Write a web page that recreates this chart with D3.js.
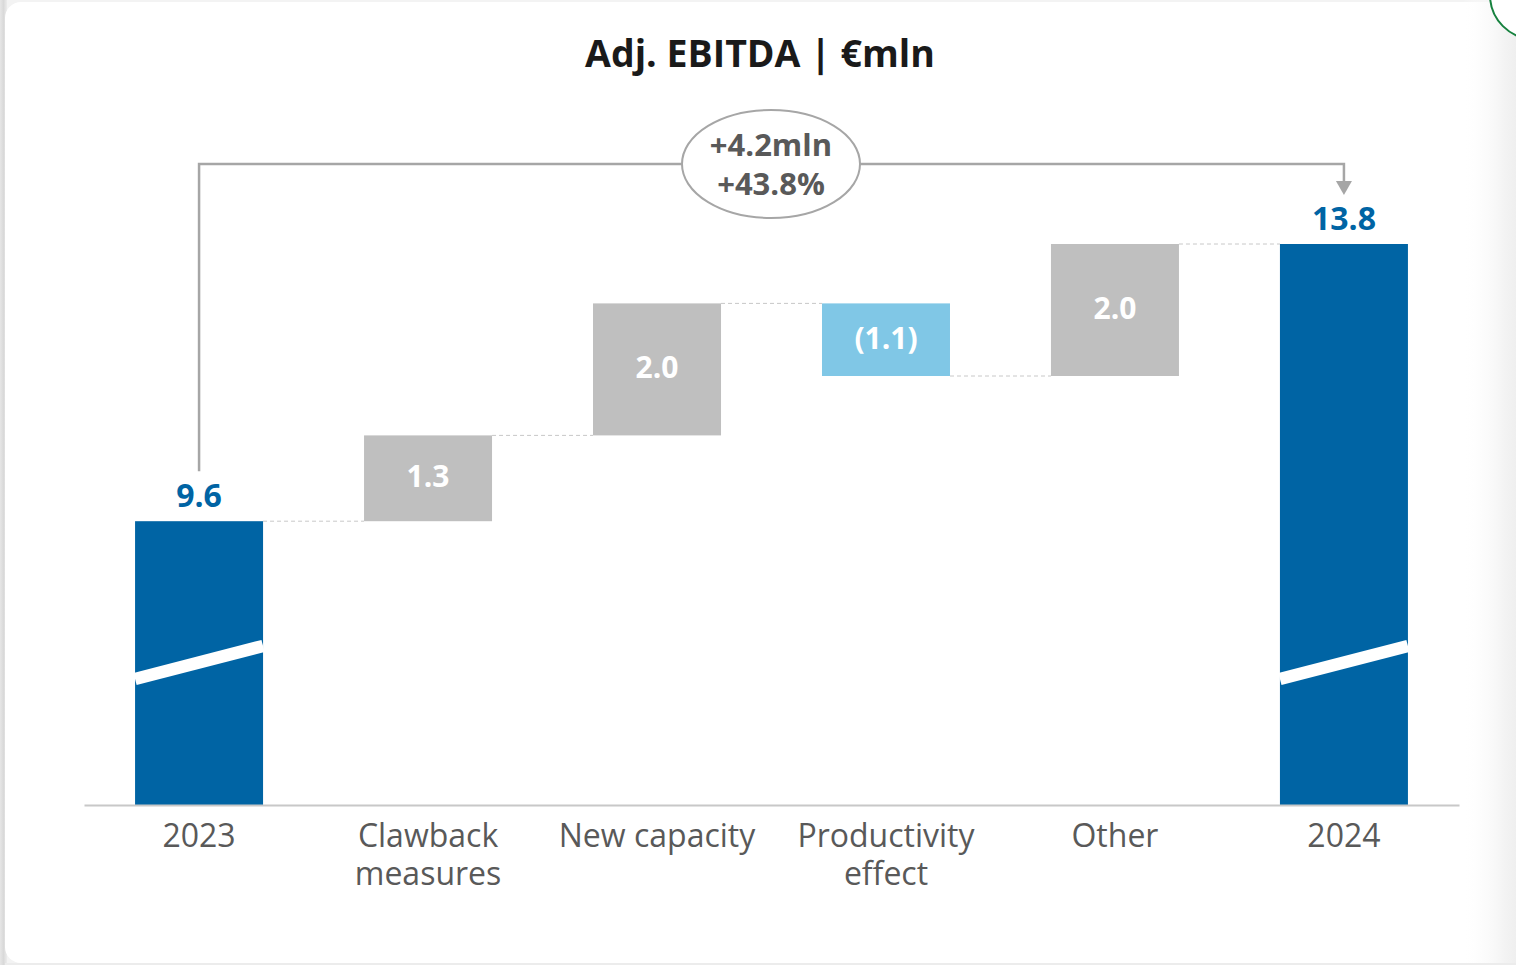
<!DOCTYPE html>
<html>
<head>
<meta charset="utf-8">
<script src="https://cdn.jsdelivr.net/npm/d3@7"></script>
<style>
  html, body { margin: 0; padding: 0; background: #f3f3f3; }
  svg { display: block; font-family: "Open Sans", "Noto Sans", sans-serif; }
</style>
</head>
<body>
<svg id="chart" width="1516" height="965"></svg>
<script>
// Adj. EBITDA bridge 2023 -> 2024, € million
const categories = ["2023", "Clawback\nmeasures", "New capacity", "Productivity\neffect", "Other", "2024"];
const stepValues = [9.6, 1.3, 2.0, -1.1, 2.0, 13.8];
const stepKinds  = ["total", "up", "up", "down", "up", "total"];
const stepLabels = ["9.6", "1.3", "2.0", "(1.1)", "2.0", "13.8"];
const changeLabels = ["+4.2mln", "+43.8%"];
const titleText = "Adj. EBITDA | €mln";
// value at which the value axis is cut (totals drawn with a break mark)
const axisFloor = 5.3;

const W = 1516, H = 965;
const svg = d3.select("#chart");

// ---- card background ----
const defs = svg.append("defs");
const lg = defs.append("linearGradient").attr("id", "leftShade").attr("x1", 0).attr("x2", 1);
lg.append("stop").attr("offset", 0).attr("stop-color", "#e6e6e6");
lg.append("stop").attr("offset", 0.5).attr("stop-color", "#d9d9d9");
lg.append("stop").attr("offset", 1).attr("stop-color", "#ececec");
const rg = defs.append("linearGradient").attr("id", "rightShade").attr("x1", 0).attr("x2", 1);
rg.append("stop").attr("offset", 0).attr("stop-color", "#ffffff").attr("stop-opacity", 0);
rg.append("stop").attr("offset", 0.8).attr("stop-color", "#f3f3f3").attr("stop-opacity", 1);
rg.append("stop").attr("offset", 1).attr("stop-color", "#efefef").attr("stop-opacity", 1);

svg.append("rect").attr("x", 0).attr("y", 0).attr("width", 7).attr("height", H).attr("fill", "url(#leftShade)");
svg.append("rect").attr("x", 5).attr("y", 2).attr("width", 1560).attr("height", 961)
  .attr("rx", 16).attr("fill", "#ffffff");
svg.append("rect").attr("x", 1462).attr("y", 0).attr("width", W - 1462).attr("height", H)
  .attr("fill", "url(#rightShade)");
svg.append("rect").attr("x", 5).attr("y", 963).attr("width", W).attr("height", 2).attr("fill", "#ececec");
svg.append("circle").attr("cx", 1534).attr("cy", -5).attr("r", 44)
  .attr("fill", "#ffffff").attr("stroke", "#17823f").attr("stroke-width", 2);

// ---- title ----
svg.append("text").attr("x", 760).attr("y", 67).attr("text-anchor", "middle")
  .attr("font-size", 37.5).attr("font-weight", 700).attr("fill", "#1a1a1a").text(titleText);

// ---- build waterfall rows ----
let running = 0;
const rows = categories.map((c, i) => {
  const v = stepValues[i];
  let lo, hi;
  if (stepKinds[i] === "total") { lo = axisFloor; hi = v; running = v; }
  else { const prev = running; running = prev + v; lo = Math.min(prev, running); hi = Math.max(prev, running); }
  return { cat: c, kind: stepKinds[i], lo, hi, end: running, label: stepLabels[i] };
});

// ---- scales ----
const x = d3.scaleBand().domain(categories).range([84, 1459]).paddingInner(0.441).paddingOuter(0.223);
const y = d3.scaleLinear().domain([axisFloor, 13.8]).range([805, 244]);

const colors = { total: "#0064a4", up: "#bfbfbf", down: "#80c7e6" };

// connectors
const conn = svg.append("g");
rows.slice(0, -1).forEach((r, i) => {
  conn.append("line")
    .attr("x1", x(r.cat) + x.bandwidth()).attr("x2", x(rows[i + 1].cat))
    .attr("y1", y(r.end)).attr("y2", y(r.end))
    .attr("stroke", "#c8c8c8").attr("stroke-width", 1).attr("stroke-dasharray", "4,3");
});

// bars
svg.append("g").selectAll("rect").data(rows).join("rect")
  .attr("x", d => x(d.cat)).attr("width", x.bandwidth())
  .attr("y", d => y(d.hi)).attr("height", d => y(d.lo) - y(d.hi))
  .attr("fill", d => colors[d.kind]);

// axis break marks on the totals
const breakLo = 7.21, breakHi = 7.71;
rows.filter(d => d.kind === "total").forEach(d => {
  const x0 = x(d.cat), x1 = x0 + x.bandwidth();
  svg.append("path")
    .attr("d", `M${x0},${y(breakLo)} L${x1},${y(breakHi)}`)
    .attr("stroke", "#ffffff").attr("stroke-width", 12.5).attr("fill", "none");
});

// value labels
svg.append("g").selectAll("text").data(rows).join("text")
  .attr("x", d => x(d.cat) + x.bandwidth() / 2)
  .attr("y", d => d.kind === "total" ? y(d.hi) - 14 : (y(d.hi) + y(d.lo)) / 2)
  .attr("dy", d => d.kind === "total" ? 0 : "0.3em")
  .attr("text-anchor", "middle").attr("font-weight", 700)
  .attr("font-size", d => d.kind === "total" ? 32 : 30)
  .attr("fill", d => d.kind === "total" ? colors.total : "#ffffff")
  .text(d => d.label);

// ---- category axis ----
const axis = svg.append("g").attr("transform", `translate(0,${y(axisFloor)})`)
  .call(d3.axisBottom(x).tickSize(0).tickFormat(""));
axis.select(".domain").attr("stroke", "#c8c8c8").attr("stroke-width", 2);
axis.selectAll(".tick").each(function(c) {
  const tick = d3.select(this);
  c.split("\n").forEach((line, k) => {
    tick.append("text").attr("x", 0).attr("y", 42 + k * 38)
      .attr("text-anchor", "middle").attr("font-size", 32).attr("fill", "#595959")
      .attr("font-family", "'Open Sans', sans-serif").text(line);
  });
});

// ---- change bracket ----
const first = rows[0], last = rows[rows.length - 1];
const xa = x(first.cat) + x.bandwidth() / 2, xb = x(last.cat) + x.bandwidth() / 2;
const yBracket = 164;
svg.append("path")
  .attr("d", `M${xa},${y(first.hi) - 50} V${yBracket} H${xb} V${y(last.hi) - 62}`)
  .attr("fill", "none").attr("stroke", "#a6a6a6").attr("stroke-width", 2.5);
const tipY = y(last.hi) - 49;
svg.append("path")
  .attr("d", `M${xb - 8},${tipY - 14} L${xb + 8},${tipY - 14} L${xb},${tipY} Z`)
  .attr("fill", "#a6a6a6");

const cx = 771;
svg.append("ellipse").attr("cx", cx).attr("cy", yBracket).attr("rx", 89).attr("ry", 54)
  .attr("fill", "#ffffff").attr("stroke", "#a6a6a6").attr("stroke-width", 2);
changeLabels.forEach((s, k) => {
  svg.append("text").attr("x", cx).attr("y", 156 + k * 39).attr("text-anchor", "middle")
    .attr("font-size", 31).attr("font-weight", 700).attr("fill", "#595959").text(s);
});
</script>
</body>
</html>
